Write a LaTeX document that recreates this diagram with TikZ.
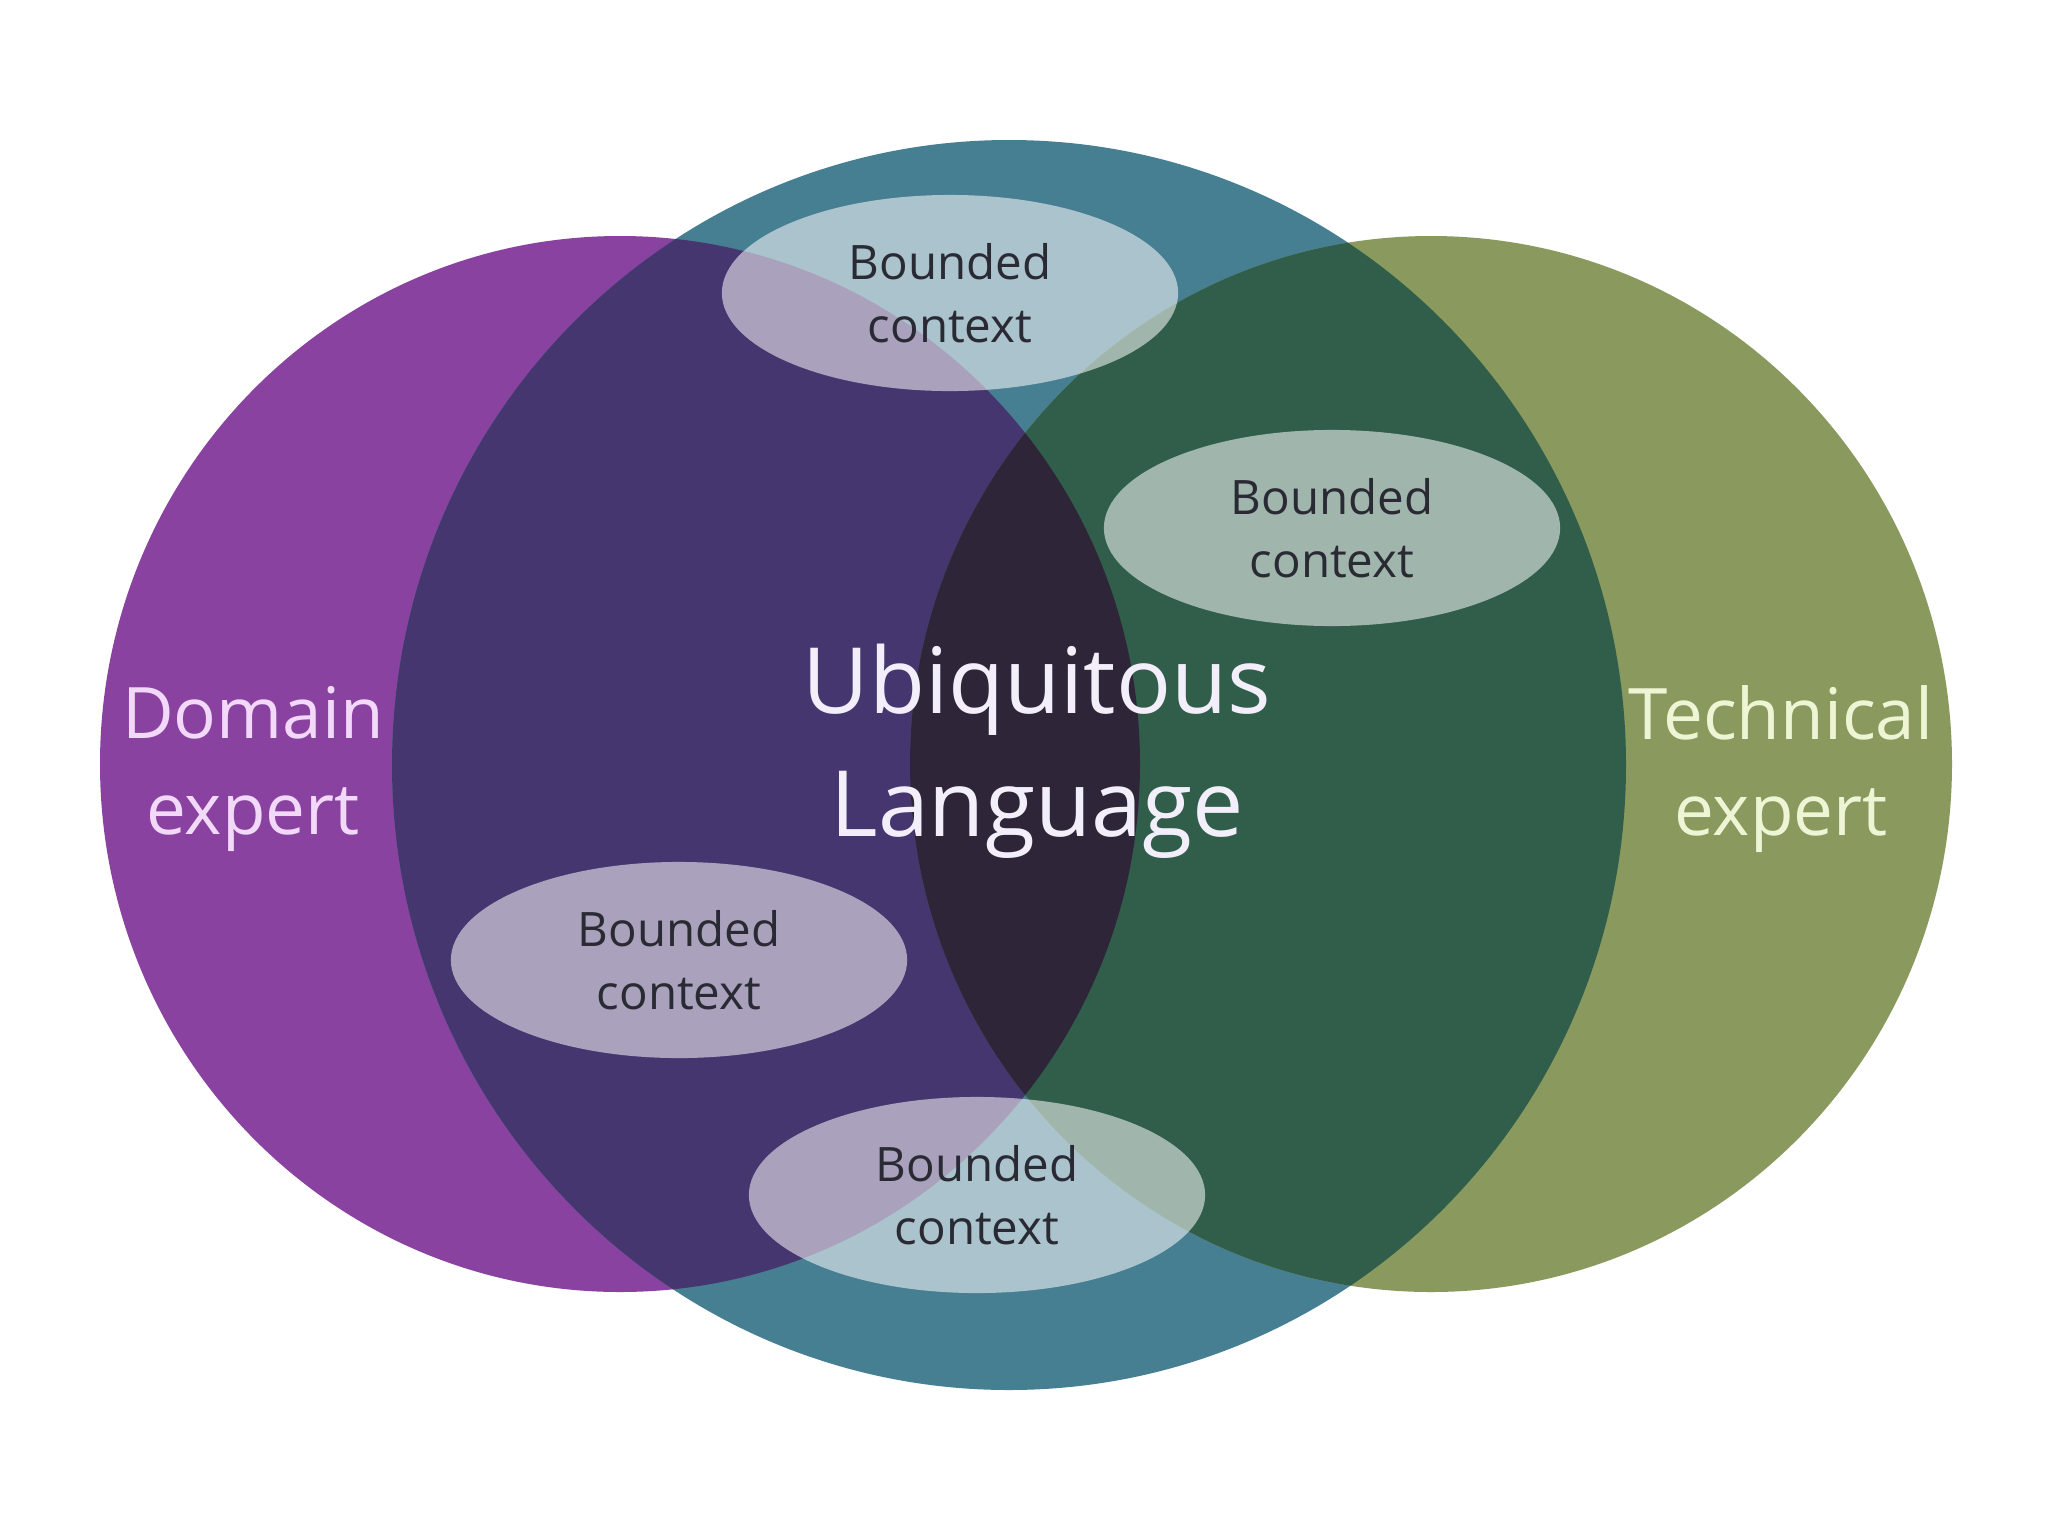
\documentclass[tikz,border=0pt]{standalone}
\usepackage{fontspec}
\setmainfont{Open Sans}
\usetikzlibrary{shapes.geometric}
\definecolor{cpurple}{RGB}{138,66,160}
\definecolor{cteal}{RGB}{70,126,146}
\definecolor{colive}{RGB}{138,154,94}
\definecolor{cpt}{RGB}{70,54,112}
\definecolor{ctg}{RGB}{48,94,74}
\definecolor{ctri}{RGB}{46,38,56}
\definecolor{ctxtdark}{RGB}{42,42,52}
\definecolor{cdom}{RGB}{242,217,250}
\definecolor{ctech}{RGB}{238,245,213}
\definecolor{cubi}{RGB}{242,238,250}
\begin{document}
\begin{tikzpicture}[x=0.01cm,y=-0.01cm,
  bcbox/.style={ellipse, fill=white, fill opacity=0.54, text opacity=1,
    minimum width=4.56cm, minimum height=1.96cm, inner sep=0pt,
    text=ctxtdark, align=center,
    font=\fontsize{13.5}{18}\selectfont},
  biglabel/.style={align=center, font=\fontsize{20.2}{27.5}\selectfont},
  ubilabel/.style={align=center, text=cubi, font=\fontsize{26}{35}\selectfont}]
\useasboundingbox (0,0) rectangle (2048,1536);
\fill[white] (0,0) rectangle (2048,1536);
% base circles
\fill[cpurple] (620,764) ellipse [x radius=520, y radius=528];
\fill[cteal] (1009,765) ellipse [x radius=617, y radius=625];
\fill[colive] (1431,764) ellipse [x radius=521, y radius=528];
% purple & teal
\begin{scope}
  \clip (620,764) ellipse [x radius=520, y radius=528];
  \fill[cpt] (1009,765) ellipse [x radius=617, y radius=625];
\end{scope}
% teal & green
\begin{scope}
  \clip (1431,764) ellipse [x radius=521, y radius=528];
  \fill[ctg] (1009,765) ellipse [x radius=617, y radius=625];
\end{scope}
% triple
\begin{scope}
  \clip (620,764) ellipse [x radius=520, y radius=528];
  \clip (1431,764) ellipse [x radius=521, y radius=528];
  \fill[ctri] (1009,765) ellipse [x radius=617, y radius=625];
\end{scope}
% bounded contexts
\node[bcbox] (bctop) at (950,293) {Bounded\\context};
\node[bcbox] (bcright) at (1332,528) {Bounded\\context};
\node[bcbox] (bcleft) at (679,960) {Bounded\\context};
\node[bcbox] (bcbottom) at (977,1195) {Bounded\\context};
% labels
\node[ubilabel] (ubi) at (1037,751) {Ubiquitous\\Language};
\node[biglabel, text=cdom] (dom) at (253,769) {Domain\\expert};
\node[biglabel, text=ctech] (tech) at (1781,769) {Technical\\expert};
\end{tikzpicture}
\end{document}
